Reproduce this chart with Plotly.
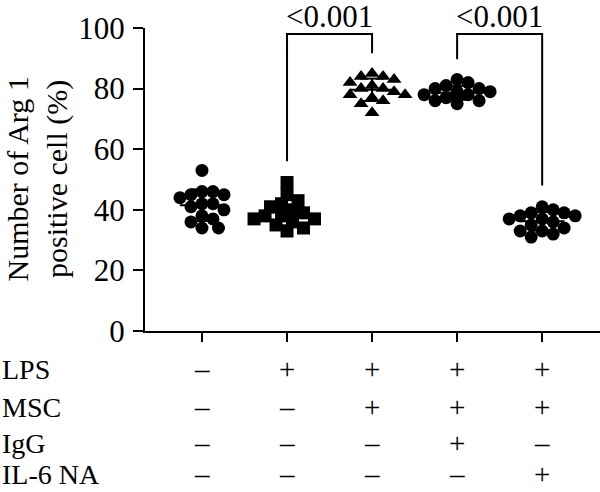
import numpy as np
import plotly.graph_objects as go

# ---- data ----
groups = ["G1", "G2", "G3", "G4", "G5"]
g1 = [53, 46, 45, 46, 45, 44, 42, 41, 42, 40, 38, 37, 36, 34, 34]
g2 = [49, 45, 43, 42, 41, 40, 39, 38, 37, 37, 36, 35, 34, 33, 38]
g3 = [85, 84, 84, 83, 82, 81, 80, 80, 79, 78, 78, 77, 76, 75, 72]
g4 = [83, 82, 81, 80, 80, 79, 79, 78, 78, 78, 77, 77, 76, 76, 75]
g5 = [41, 40, 39, 39, 38, 38, 37, 37, 36, 35, 34, 33, 33, 32, 31]
series = [g1, g2, g3, g4, g5]
symbols = ["circle", "square", "triangle-up", "circle", "circle"]

row_labels = ["LPS", "MSC", "IgG", "IL-6 NA"]
row_signs = [
    ["–", "+", "+", "+", "+"],
    ["–", "–", "+", "+", "+"],
    ["–", "–", "–", "+", "–"],
    ["–", "–", "–", "–", "+"],
]
comparisons = [(1, 2, "<0.001"), (3, 4, "<0.001")]
y_ticks = [0, 20, 40, 60, 80, 100]

# ---- geometry helpers ----
W, H = 600, 492
ML, MR, MT, MB = 145, 0, 28, 161
XR = [-0.67, 4.68]
YR = [0, 100]
PW = W - ML - MR
PH = H - MT - MB
px_per_x = PW / (XR[1] - XR[0])
px_per_y = PH / (YR[1] - YR[0])
FONT = "Liberation Serif"
FS = 31


def swarm(values, diam=10.0, step=5.5):
    order = np.argsort(-np.array(values), kind="stable")
    placed = []
    offs = np.zeros(len(values))
    for i in order:
        vy = values[i] * px_per_y
        cands = [0]
        for m in range(1, 8):
            cands += [m * step, -m * step]
        for c in cands:
            if all((px - c) ** 2 + (py - vy) ** 2 >= diam ** 2 for (px, py) in placed):
                offs[i] = c
                placed.append((c, vy))
                break
    return offs / px_per_x


fig = go.Figure()
font = dict(family=FONT, size=FS, color="black")
lab_font = dict(family=FONT, size=28, color="black")
sign_font = dict(family=FONT, size=29, color="black")
title_font = dict(family=FONT, size=30, color="black")

for gi, (vals, sym) in enumerate(zip(series, symbols)):
    offs = swarm(vals)
    fig.add_trace(go.Scatter(
        x=gi + offs, y=vals, mode="markers",
        marker=dict(symbol=sym, size=13, color="black", line=dict(width=0)),
        showlegend=False, hoverinfo="skip"))
    m = float(np.mean(vals))
    sd = float(np.std(vals, ddof=1))
    hw, cw = 0.26, 0.14
    fig.add_trace(go.Scatter(
        x=[gi - hw, gi + hw, None, gi, gi, None, gi - cw, gi + cw, None, gi - cw, gi + cw],
        y=[m, m, None, m - sd, m + sd, None, m + sd, m + sd, None, m - sd, m - sd],
        mode="lines", line=dict(color="black", width=2),
        showlegend=False, hoverinfo="skip"))

# significance brackets
for (a, b, txt) in comparisons:
    ya = max(series[a]) + (7 if max(series[a]) < 60 else 6.7)
    yb = max(series[b]) + (7 if max(series[b]) < 60 else 6.7)
    top = 98
    fig.add_trace(go.Scatter(
        x=[a, a, b, b], y=[ya, top, top, yb], mode="lines",
        line=dict(color="black", width=2), showlegend=False, hoverinfo="skip",
        cliponaxis=False))
    xp = ((a + b) / 2 - XR[0]) / (XR[1] - XR[0])
    fig.add_annotation(x=xp, y=(H - MB - 17) / PH, xref="paper", yref="paper", text=txt,
                       showarrow=False, font=font, yanchor="middle", xanchor="center")

# table below the axis
row_py = [369, 407, 443, 474]
for r, (lab, signs) in enumerate(zip(row_labels, row_signs)):
    yp = (H - MB - row_py[r]) / PH
    fig.add_annotation(x=(0 - ML) / PW, y=yp, xref="paper", yref="paper",
                       text=lab, showarrow=False, font=lab_font, xanchor="left",
                       yanchor="middle")
    for gi, s in enumerate(signs):
        fig.add_annotation(x=gi, y=yp, xref="x", yref="paper", text=s,
                           showarrow=False, font=sign_font, xanchor="center",
                           yanchor="middle")

# y axis title
fig.add_annotation(x=(37 - ML) / PW, y=0.5, xref="paper", yref="paper",
                   text="Number of Arg 1<br>positive cell (%)", textangle=-90,
                   showarrow=False, font=title_font, xanchor="center", yanchor="middle")

fig.update_layout(
    width=W, height=H, margin=dict(l=ML, r=MR, t=MT, b=MB),
    paper_bgcolor="white", plot_bgcolor="white", font=font,
    xaxis=dict(range=XR, showgrid=False, zeroline=False, showline=True,
               linecolor="black", linewidth=2, ticks="outside", ticklen=9,
               tickwidth=2, tickcolor="black", tickvals=list(range(len(groups))),
               showticklabels=False),
    yaxis=dict(range=YR, showgrid=False, zeroline=False, showline=True,
               linecolor="black", linewidth=2, ticks="outside", ticklen=10,
               tickwidth=2, tickcolor="black", tickvals=y_ticks,
               tickfont=font, ticklabelstandoff=2),
)
fig.write_html("out.html")
